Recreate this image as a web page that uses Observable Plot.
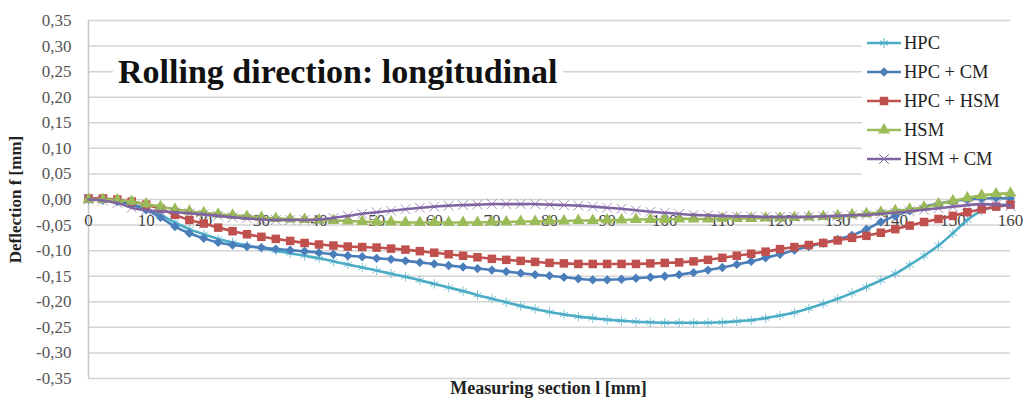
<!DOCTYPE html>
<html>
<head>
<meta charset="utf-8">
<script src="https://cdn.jsdelivr.net/npm/d3@7"></script>
<script src="https://cdn.jsdelivr.net/npm/@observablehq/plot@0.6"></script>
<style>
  html, body { margin: 0; padding: 0; background: #fff; }
  #wrap { position: relative; width: 1029px; height: 403px; overflow: hidden; }
  #title { position: absolute; left: 113px; top: 52px; background: #fff; padding: 0 5px;
    font: bold 34px "Liberation Serif", serif; color: #111; white-space: nowrap; line-height: 40px; }
  #legend { position: absolute; left: 862px; top: 27px; width: 148px; height: 152px; background: #fff; }
  .item { position: absolute; left: 4px; height: 22px; display: flex; align-items: center;
    font: 18.5px "Liberation Serif", serif; color: #222; white-space: nowrap; }
  .item svg { margin-right: 2px; }
</style>
</head>
<body>
<div id="wrap"></div>
<script>
const positions = [0,2.5,5,7.5,10,12.5,15,17.5,20,22.5,25,27.5,30,32.5,35,37.5,40,42.5,45,47.5,50,52.5,55,57.5,60,62.5,65,67.5,70,72.5,75,77.5,80,82.5,85,87.5,90,92.5,95,97.5,100,102.5,105,107.5,110,112.5,115,117.5,120,122.5,125,127.5,130,132.5,135,137.5,140,142.5,145,147.5,150,152.5,155,157.5,160];

const seriesNames = ["HPC", "HPC + CM", "HPC + HSM", "HSM", "HSM + CM"];

const hpc = [0.0,-0.001,-0.004,-0.01,-0.018,-0.03,-0.045,-0.058,-0.068,-0.077,-0.084,-0.09,-0.095,-0.1,-0.105,-0.11,-0.115,-0.121,-0.127,-0.133,-0.139,-0.145,-0.151,-0.158,-0.165,-0.172,-0.179,-0.187,-0.194,-0.201,-0.208,-0.214,-0.22,-0.225,-0.229,-0.232,-0.235,-0.237,-0.239,-0.24,-0.241,-0.241,-0.241,-0.241,-0.24,-0.238,-0.236,-0.232,-0.227,-0.221,-0.213,-0.204,-0.194,-0.183,-0.171,-0.158,-0.145,-0.128,-0.11,-0.09,-0.066,-0.04,-0.022,-0.013,-0.009];

const hpcCm = [0.0,-0.001,-0.004,-0.01,-0.02,-0.035,-0.053,-0.066,-0.076,-0.084,-0.089,-0.092,-0.094,-0.097,-0.099,-0.101,-0.104,-0.107,-0.11,-0.112,-0.115,-0.117,-0.12,-0.123,-0.126,-0.129,-0.132,-0.135,-0.138,-0.141,-0.144,-0.147,-0.149,-0.152,-0.155,-0.157,-0.157,-0.156,-0.154,-0.152,-0.15,-0.147,-0.143,-0.138,-0.133,-0.127,-0.121,-0.114,-0.107,-0.099,-0.092,-0.085,-0.078,-0.07,-0.058,-0.044,-0.032,-0.022,-0.014,-0.008,-0.003,0.0,0.002,0.003,0.002];

const hpcHsm = [0.002,0.002,0.0,-0.004,-0.01,-0.018,-0.03,-0.04,-0.047,-0.055,-0.062,-0.068,-0.073,-0.077,-0.081,-0.085,-0.088,-0.09,-0.092,-0.093,-0.094,-0.096,-0.098,-0.101,-0.104,-0.107,-0.11,-0.113,-0.116,-0.118,-0.12,-0.122,-0.124,-0.125,-0.126,-0.126,-0.126,-0.126,-0.126,-0.125,-0.124,-0.123,-0.121,-0.118,-0.114,-0.11,-0.106,-0.102,-0.097,-0.093,-0.089,-0.085,-0.08,-0.075,-0.071,-0.065,-0.058,-0.051,-0.044,-0.038,-0.032,-0.025,-0.019,-0.014,-0.01];

const hsm = [0.0,0.0,-0.001,-0.004,-0.009,-0.014,-0.019,-0.023,-0.026,-0.029,-0.031,-0.033,-0.035,-0.037,-0.038,-0.039,-0.04,-0.041,-0.042,-0.043,-0.044,-0.044,-0.045,-0.045,-0.045,-0.045,-0.045,-0.045,-0.044,-0.044,-0.043,-0.043,-0.042,-0.042,-0.041,-0.041,-0.04,-0.04,-0.039,-0.039,-0.039,-0.038,-0.038,-0.038,-0.037,-0.037,-0.037,-0.036,-0.036,-0.035,-0.034,-0.033,-0.032,-0.03,-0.028,-0.025,-0.022,-0.019,-0.015,-0.009,-0.003,0.003,0.008,0.011,0.012];

const hsmCm = [0.0,-0.002,-0.007,-0.016,-0.021,-0.023,-0.025,-0.027,-0.029,-0.032,-0.035,-0.037,-0.039,-0.04,-0.04,-0.04,-0.039,-0.036,-0.032,-0.028,-0.025,-0.022,-0.019,-0.016,-0.014,-0.012,-0.011,-0.01,-0.009,-0.009,-0.009,-0.009,-0.01,-0.011,-0.012,-0.014,-0.016,-0.018,-0.021,-0.024,-0.026,-0.028,-0.03,-0.031,-0.032,-0.033,-0.033,-0.034,-0.034,-0.034,-0.034,-0.033,-0.032,-0.031,-0.03,-0.028,-0.026,-0.023,-0.02,-0.017,-0.014,-0.011,-0.009,-0.01,-0.013];

const yTicks = [-0.35,-0.30,-0.25,-0.20,-0.15,-0.10,-0.05,0,0.05,0.10,0.15,0.20,0.25,0.30,0.35];
const xTicks = [0,10,20,30,40,50,60,70,80,90,100,110,120,130,140,150,160];

const titleText = "Rolling direction: longitudinal";
const xLabel = "Measuring section l [mm]";
const yLabel = "Deflection f [mm]";

const styles = [
  {color: "#4bacc6", symbol: "asterisk", stroked: true, r: 4.5},
  {color: "#4a7ebb", symbol: "diamond2", stroked: false, r: 4.2},
  {color: "#c0504d", symbol: "square", stroked: false, r: 4.8},
  {color: "#9bbb59", symbol: "triangle", stroked: false, r: 4.5},
  {color: "#8064a2", symbol: "times", stroked: true, r: 4.5}
];
const allValues = [hpc, hpcCm, hpcHsm, hsm, hsmCm];

const fmt = d => (Math.abs(d) < 1e-9 ? 0 : d).toFixed(2).replace(".", ",");

const seriesMarks = allValues.flatMap((vals, i) => {
  const st = styles[i];
  const rows = positions.map((x, j) => ({x, y: vals[j]}));
  return [
    Plot.line(rows, {x: "x", y: "y", stroke: st.color, strokeWidth: 2.6, curve: "catmull-rom"}),
    Plot.dot(rows, st.stroked
      ? {x: "x", y: "y", symbol: () => st.symbol, r: st.r, stroke: st.color, strokeWidth: 1, strokeOpacity: 0.7, fill: "none"}
      : {x: "x", y: "y", symbol: () => st.symbol, r: st.r, fill: st.color, stroke: "none"})
  ];
});

const chart = Plot.plot({
  width: 1029,
  height: 403,
  marginLeft: 88,
  marginRight: 19,
  marginTop: 20,
  marginBottom: 25,
  x: {domain: [0, 160], axis: null},
  y: {domain: [-0.35, 0.35], axis: null},
  symbol: {type: "identity"},
  style: {fontFamily: "'Liberation Serif', serif", background: "white", overflow: "visible"},
  marks: [
    Plot.gridY(yTicks, {stroke: "#d4d4d4", strokeOpacity: 1, strokeWidth: 1.5}),
    Plot.axisY(yTicks, {tickSize: 0, tickPadding: 17, tickFormat: fmt, fontSize: 17, fill: "#555", label: null}),
    Plot.ruleX([0], {stroke: "#c8c8c8", strokeWidth: 1.5}),
    Plot.text(xTicks, {x: d => d, y: () => 0, dy: 21, text: d => String(d), fontSize: 17, fill: "#444"}),
    ...seriesMarks,
    Plot.text([yLabel], {frameAnchor: "left", textAnchor: "middle", dx: -73, rotate: -90, fontSize: 17, fontWeight: "bold", fill: "#222"}),
    Plot.text([xLabel], {frameAnchor: "bottom", textAnchor: "middle", dx: -1, dy: 15, fontSize: 18, fontWeight: "bold", fill: "#222"})
  ]
});

const wrap = document.getElementById("wrap");
wrap.appendChild(chart);

const title = document.createElement("div");
title.id = "title";
title.textContent = titleText;
wrap.appendChild(title);

const legend = document.createElement("div");
legend.id = "legend";
wrap.appendChild(legend);
const d3Sym = {asterisk: d3.symbolAsterisk, diamond2: d3.symbolDiamond2, square: d3.symbolSquare, triangle: d3.symbolTriangle, times: d3.symbolTimes};
seriesNames.forEach((name, i) => {
  const st = styles[i];
  const item = document.createElement("div");
  item.className = "item";
  item.style.top = (5 + i * 29) + "px";
  const svg = d3.create("svg").attr("width", 36).attr("height", 14);
  svg.append("line").attr("x1", 1).attr("x2", 35).attr("y1", 7).attr("y2", 7)
    .attr("stroke", st.color).attr("stroke-width", 2.6);
  const p = svg.append("path").attr("transform", "translate(18,7)")
    .attr("d", d3.symbol(d3Sym[st.symbol], Math.PI * st.r * st.r)());
  if (st.stroked) p.attr("fill", "none").attr("stroke", st.color).attr("stroke-width", 1);
  else p.attr("fill", st.color);
  item.appendChild(svg.node());
  const t = document.createElement("span");
  t.textContent = name;
  item.appendChild(t);
  legend.appendChild(item);
});
</script>
</body>
</html>
